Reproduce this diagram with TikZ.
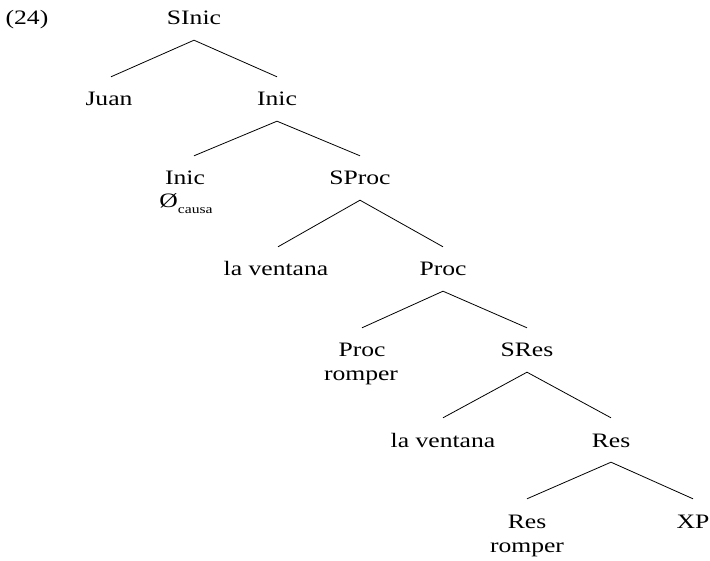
\documentclass[tikz,border=0pt]{standalone}
\usepackage{fontspec}
\setmainfont{Liberation Serif}[FakeStretch=1.25]
\begin{document}
\begin{tikzpicture}[x=1pt,y=-1pt,
  lab/.style={anchor=base, inner xsep=1pt, inner ysep=0pt, text height=14pt, text depth=4pt,
    font=\fontsize{20.5}{24}\selectfont},
  br/.style={line width=0.8pt}]
\useasboundingbox (0,0) rectangle (710,561);
% labels
\node[lab] (n24)   at (27,25)   {(24)};
\node[lab] (sinic) at (194,25)  {SInic};
\node[lab] (juan)  at (109,106) {Juan};
\node[lab] (inicA) at (277,106) {Inic};
\node[lab] (inicB) at (185,185) {Inic};
\node[lab] (nulo)  at (186,208) {Ø\raisebox{-6pt}{\fontsize{12.5}{14}\selectfont causa}};
\node[lab] (sproc) at (360,185) {SProc};
\node[lab] (lvA)   at (276,276) {la ventana};
\node[lab] (procA) at (443,276) {Proc};
\node[lab] (procB) at (362,357) {Proc};
\node[lab] (rompA) at (361,381) {romper};
\node[lab] (sres)  at (527,357) {SRes};
\node[lab] (lvB)   at (443,447) {la ventana};
\node[lab] (resA)  at (611,447) {Res};
\node[lab] (resB)  at (527,528) {Res};
\node[lab] (rompB) at (527,552) {romper};
\node[lab] (xp)    at (693,528) {XP};
% branches
\tikzset{up/.style={yshift=-11pt}, dn/.style={yshift=15pt}}
\draw[br] ([xshift=2pt,dn]juan.north) -- ([up]sinic.south) -- ([dn]inicA.north);
\draw[br] ([xshift=9pt,dn]inicB.north) -- ([up]inicA.south) -- ([dn]sproc.north);
\draw[br] ([xshift=2pt,dn]lvA.north) -- ([up]sproc.south) -- ([dn]procA.north);
\draw[br] ([dn]procB.north) -- ([up]procA.south) -- ([dn]sres.north);
\draw[br] ([dn]lvB.north) -- ([up]sres.south) -- ([dn]resA.north);
\draw[br] ([dn]resB.north) -- ([up]resA.south) -- ([dn]xp.north);
\end{tikzpicture}
\end{document}
